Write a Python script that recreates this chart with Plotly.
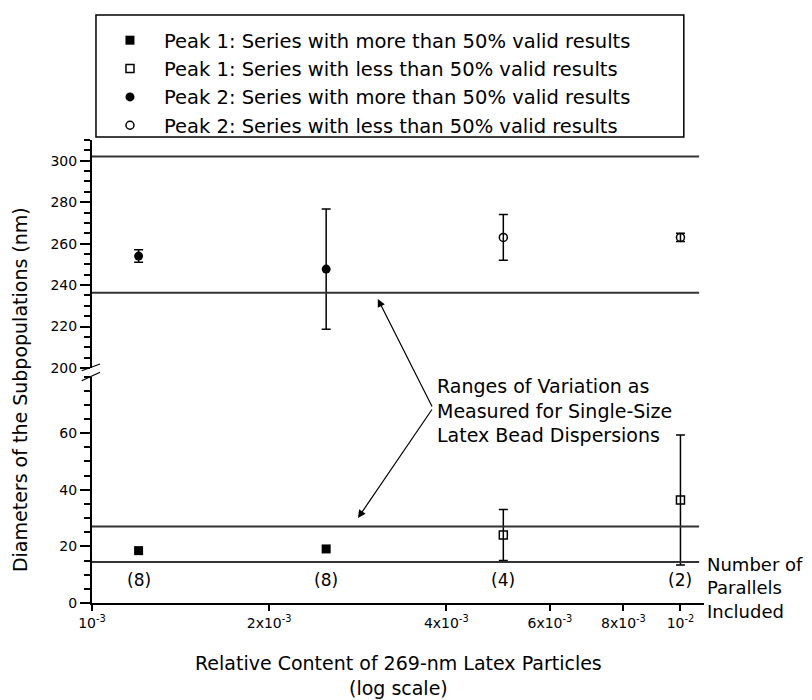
import math
import plotly.graph_objects as go

# ---------------- data ----------------
x_content = [0.0012, 0.0025, 0.005, 0.01]
parallels_text = ["(8)", "(8)", "(4)", "(2)"]
parallels_y = 8

p1_more_x = [0.0012, 0.0025]
p1_more_y = [18.5, 19.1]

p1_less_x = [0.005, 0.01]
p1_less_y = [24.0, 36.4]
p1_less_err = [9.0, 23.0]

p2_more_x = [0.0012, 0.0025]
p2_more_y = [254.0, 247.7]
p2_more_err = [3.0, 29.0]

p2_less_x = [0.005, 0.01]
p2_less_y = [263.0, 263.0]
p2_less_err = [11.0, 2.0]

ref_lines_lower = [14.5, 27.0]
ref_lines_upper = [236.3, 302.0]

x_tickvals = [0.001, 0.002, 0.004, 0.006, 0.008, 0.01]
x_ticktext = ["10<sup>-3</sup>", "2x10<sup>-3</sup>", "4x10<sup>-3</sup>",
              "6x10<sup>-3</sup>", "8x10<sup>-3</sup>", "10<sup>-2</sup>"]
x_decades = [0.001, 0.01]
lower_tickvals = [0, 20, 40, 60]
upper_tickvals = [200, 220, 240, 260, 280, 300]

legend_names = [
    "Peak 1: Series with more than 50% valid results",
    "Peak 1: Series with less than 50% valid results",
    "Peak 2: Series with more than 50% valid results",
    "Peak 2: Series with less than 50% valid results",
]

FONT = "DejaVu Sans"
INK = "#000000"
LINE = "#333333"

fig = go.Figure()

err_style = dict(type="data", color=INK, thickness=1.5, width=4.5)

fig.add_trace(go.Scatter(
    x=p1_more_x, y=p1_more_y, mode="markers", name=legend_names[0],
    marker=dict(symbol="square", size=9, color=INK),
    xaxis="x", yaxis="y"))
fig.add_trace(go.Scatter(
    x=p1_less_x, y=p1_less_y, mode="markers", name=legend_names[1],
    marker=dict(symbol="square-open", size=8, color=INK, line=dict(width=1.5)),
    error_y=dict(array=p1_less_err, **err_style),
    xaxis="x", yaxis="y"))
fig.add_trace(go.Scatter(
    x=p2_more_x, y=p2_more_y, mode="markers", name=legend_names[2],
    marker=dict(symbol="circle", size=9, color=INK),
    error_y=dict(array=p2_more_err, **err_style),
    xaxis="x", yaxis="y2"))
fig.add_trace(go.Scatter(
    x=p2_less_x, y=p2_less_y, mode="markers", name=legend_names[3],
    marker=dict(symbol="circle-open", size=8, color=INK, line=dict(width=1.5)),
    error_y=dict(array=p2_less_err, **err_style),
    xaxis="x", yaxis="y2"))

shapes = []
for v in ref_lines_lower:
    shapes.append(dict(type="line", xref="paper", yref="y", x0=0, x1=0.992,
                       y0=v, y1=v, line=dict(color=LINE, width=2)))
for v in ref_lines_upper:
    shapes.append(dict(type="line", xref="paper", yref="y2", x0=0, x1=0.992,
                       y0=v, y1=v, line=dict(color=LINE, width=2)))
# axis break marks
shapes.append(dict(type="line", xref="paper", yref="paper", x0=-0.0168, y0=0.5017,
                   x1=0.0131, y1=0.5162, line=dict(color=INK, width=1.2)))
shapes.append(dict(type="line", xref="paper", yref="paper", x0=-0.0168, y0=0.4801,
                   x1=0.0131, y1=0.4983, line=dict(color=INK, width=1.2)))
# legend frame
shapes.append(dict(type="rect", xref="paper", yref="paper", x0=0.0065, x1=0.967,
                   y0=1.0065, y1=1.27, line=dict(color=INK, width=1.5),
                   fillcolor="rgba(0,0,0,0)"))

annotations = []
for xv, t in zip(x_content, parallels_text):
    annotations.append(dict(x=math.log10(xv), y=parallels_y, xref="x", yref="y", text=t,
                            xanchor="center", yanchor="middle",
                            showarrow=False, font=dict(family=FONT, size=17, color=INK)))
annotations.append(dict(x=1.0016, y=5.3, xref="paper", yref="y", xanchor="left",
                        yanchor="middle", align="left", showarrow=False,
                        text="Number of<br>Parallels<br>Included",
                        font=dict(family=FONT, size=18, color=INK)))
annotations.append(dict(x=0.5605, y=0.4168, xref="paper", yref="paper", xanchor="left",
                        yanchor="middle", align="left", showarrow=False,
                        text="Ranges of Variation as<br>Measured for Single-Size<br>Latex Bead Dispersions",
                        font=dict(family=FONT, size=19, color=INK)))
# arrows
annotations.append(dict(x=0.467, y=0.6566, xref="paper", yref="paper", text="",
                        showarrow=True, ax=55, ay=109, arrowhead=2, arrowsize=1.3,
                        arrowwidth=1.2, arrowcolor=INK))
annotations.append(dict(x=0.4346, y=0.1836, xref="paper", yref="paper", text="",
                        showarrow=True, ax=75, ay=-110, arrowhead=2, arrowsize=1.3,
                        arrowwidth=1.2, arrowcolor=INK))
# axis titles
annotations.append(dict(x=-0.1176, y=0.46, xref="paper", yref="paper", textangle=-90,
                        xanchor="center", yanchor="middle",
                        text="Diameters of the Subpopulations (nm)", showarrow=False,
                        font=dict(family=FONT, size=19, color=INK)))
annotations.append(dict(x=0.5, y=-0.1566, xref="paper", yref="paper",
                        xanchor="center", yanchor="middle",
                        text="Relative Content of 269-nm Latex Particles<br>(log scale)",
                        showarrow=False, font=dict(family=FONT, size=19, color=INK)))

# the page body adds an 8 px offset; the figure is sized so it ends at the window edge
fig.update_layout(
    width=804, height=692,
    margin=dict(l=84, r=108, t=132, b=97, autoexpand=False),
    paper_bgcolor="white", plot_bgcolor="white",
    font=dict(family=FONT, size=14, color=INK),
    showlegend=True,
    legend=dict(x=0.0065, y=1.257, xanchor="left", yanchor="top",
                borderwidth=0, bgcolor="rgba(0,0,0,0)",
                font=dict(family=FONT, size=19.5, color=INK),
                itemwidth=58),
    xaxis=dict(type="log", range=[-3, -1.96], anchor="y",
               tickvals=x_tickvals, ticktext=x_ticktext,
               ticks="outside", ticklen=6, tickwidth=1.5, tickcolor=INK,
               showline=True, linecolor=INK, linewidth=2,
               showgrid=False, zeroline=False,
               tickfont=dict(family=FONT, size=14, color=INK)),
    xaxis2=dict(type="log", range=[-3, -1.96], overlaying="x", anchor="y", side="bottom",
                tickvals=x_decades, ticks="outside", ticklen=10, tickwidth=1.5,
                tickcolor=INK, showticklabels=False, showline=False,
                showgrid=False, zeroline=False),
    yaxis=dict(domain=[0, 0.489], range=[0, 80], anchor="x",
               tickvals=lower_tickvals, ticks="outside", ticklen=10, tickwidth=1.5,
               tickcolor=INK, showline=True, linecolor=INK, linewidth=2,
               showgrid=False, zeroline=False,
               minor=dict(dtick=5, ticks="outside", ticklen=6, tickwidth=1.5, tickcolor=INK),
               tickfont=dict(family=FONT, size=14, color=INK)),
    yaxis2=dict(domain=[0.5076, 1], range=[200, 310], anchor="x",
                tickvals=upper_tickvals, ticks="outside", ticklen=10, tickwidth=1.5,
                tickcolor=INK, showline=True, linecolor=INK, linewidth=2,
                showgrid=False, zeroline=False,
                minor=dict(dtick=5, ticks="outside", ticklen=6, tickwidth=1.5, tickcolor=INK),
                tickfont=dict(family=FONT, size=14, color=INK)),
    shapes=shapes,
    annotations=annotations,
)

fig.write_html("out.html")
